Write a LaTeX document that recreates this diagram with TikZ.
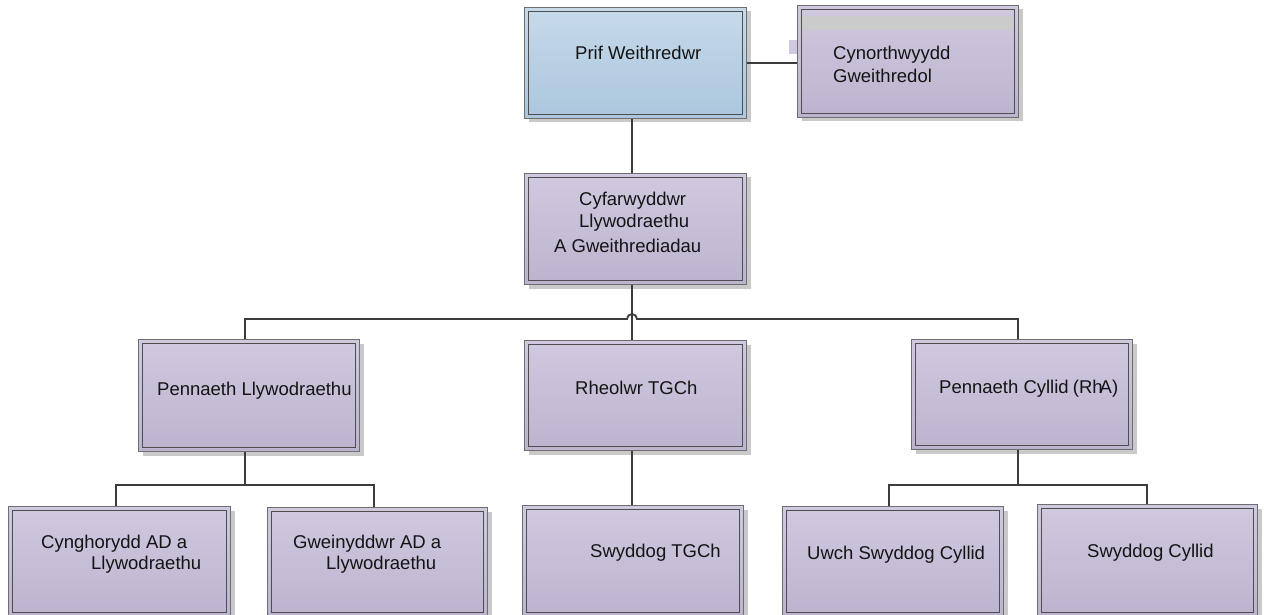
\documentclass[tikz,border=0pt]{standalone}
\usepackage{fontspec}
\setmainfont{Liberation Sans}
\usetikzlibrary{shadows}
\definecolor{lavtop}{HTML}{D0C9DF}
\definecolor{lavbot}{HTML}{BDB3CF}
\definecolor{bluetop}{HTML}{C6DAEA}
\definecolor{bluebot}{HTML}{ABC6DD}
\definecolor{edgeout}{HTML}{6E6E6E}
\definecolor{edgein}{HTML}{4E4E4E}
\definecolor{conn}{HTML}{3C3C3C}
\definecolor{shadowgray}{HTML}{C9C9C9}
\definecolor{bandgray}{HTML}{CBCBCB}
\begin{document}
\begin{tikzpicture}[x=1pt,y=1pt,
  box/.style={rectangle, anchor=north west, inner sep=0pt, draw=edgeout, line width=1pt,
    top color=lavtop, bottom color=lavbot,
    drop shadow={shadow xshift=4pt, shadow yshift=-4pt, fill=shadowgray, opacity=1}},
  bluebox/.style={box, top color=bluetop, bottom color=bluebot},
  lbl/.style={anchor=base west, inner sep=0pt, font=\fontsize{18.5}{22}\selectfont, text=black!92},
  link/.style={draw=conn, line width=1.8pt},
  innerline/.style={draw=edgein, line width=1pt}]
\useasboundingbox (0,0) rectangle (1264,-615);
\clip (0,0) rectangle (1264,-615);

% boxes
\node[bluebox, minimum width=222pt, minimum height=111pt] (prif) at (524,-7) {};
\node[box, minimum width=221pt, minimum height=112pt] (cyn) at (797,-5) {};
\node[box, minimum width=222pt, minimum height=111pt] (cyf) at (524,-173) {};
\node[box, minimum width=221pt, minimum height=112pt] (pl) at (138,-339) {};
\node[box, minimum width=222pt, minimum height=110pt] (rh) at (524,-340) {};
\node[box, minimum width=221pt, minimum height=110pt] (pc) at (911,-339) {};
\node[box, minimum width=222pt, minimum height=110pt] (cg) at (8,-506) {};
\node[box, minimum width=220pt, minimum height=109pt] (gw) at (267,-507) {};
\node[box, minimum width=221pt, minimum height=111pt] (st) at (522,-505) {};
\node[box, minimum width=221pt, minimum height=110pt] (uc) at (782,-506) {};
\node[box, minimum width=220pt, minimum height=112pt] (sc) at (1037,-504) {};

% artefacts of the Cynorthwyydd box
\fill[bandgray] (800,-16) rectangle (1015,-30);
\fill[lavtop] (789,-40) rectangle (797,-54);

% inner borders
\foreach \n in {prif,cyn,cyf,pl,rh,pc,cg,gw,st,uc,sc}
  \draw[innerline] ([shift={(4.5,-4.5)}]\n.north west) rectangle ([shift={(-4.5,4.5)}]\n.south east);

% connector coordinates
\coordinate (tr) at (632,0);
\coordinate (busL) at (245,-319);
\coordinate (busR) at (1018,-319);
\coordinate (hopL) at (627,-319);
\coordinate (lj) at (245,-485);
\coordinate (lb1) at (116,-485);
\coordinate (lb2) at (374,-485);
\coordinate (rj) at (1018,-485);
\coordinate (rb1) at (889,-485);
\coordinate (rb2) at (1147,-485);

% connectors
\draw[link] (prif.east) -- (prif.east -| cyn.west);
\draw[link] (prif.south -| tr) -- (cyf.north -| tr);
\draw[link] (cyf.south -| tr) -- (rh.north -| tr);
\draw[link] (pl.north -| busL) -- (busL) -- (hopL) arc[start angle=180, end angle=0, radius=5] -- (busR) -- (pc.north -| busR);
\draw[link] (pl.south -| lj) -- (lj);
\draw[link] (cg.north -| lb1) -- (lb1) -- (lb2) -- (gw.north -| lb2);
\draw[link] (rh.south -| tr) -- (st.north -| tr);
\draw[link] (pc.south -| rj) -- (rj);
\draw[link] (uc.north -| rb1) -- (rb1) -- (rb2) -- (sc.north -| rb2);

% labels
\node[lbl] (tprif) at (575,-60) {Prif Weithredwr};
\node[lbl] (tcyn1) at (833,-60) {Cynorthwyydd};
\node[lbl] (tcyn2) at (833,-83) {Gweithredol};
\node[lbl] (tcyf1) at (579,-205) {Cyfarwyddwr};
\node[lbl] (tcyf2) at (579,-227) {Llywodraethu};
\node[lbl] (tcyf3) at (554,-252) {A Gweithrediadau};
\node[lbl] (tpl) at (157,-395) {Pennaeth Llywodraethu};
\node[lbl] (trh) at (575,-394) {Rheolwr TGCh};
\node[lbl] (tpc) at (939,-393) {Pennaeth Cyllid\kern-1pt\ (Rh\kern-3pt A)};
\node[lbl] (tcg1) at (41,-548) {Cynghorydd AD a};
\node[lbl] (tcg2) at (91,-569) {Llywodraethu};
\node[lbl] (tgw1) at (293,-548) {Gweinyddwr AD a};
\node[lbl] (tgw2) at (326,-569) {Llywodraethu};
\node[lbl] (tst) at (590,-557) {Swyddog TGCh};
\node[lbl] (tuc) at (807,-559) {Uwch Swyddog Cyllid};
\node[lbl] (tsc) at (1087,-557) {Swyddog Cyllid};
\end{tikzpicture}
\end{document}
